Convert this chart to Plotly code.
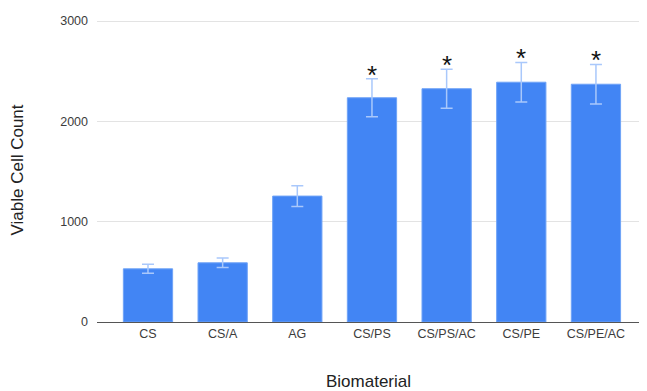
import plotly.graph_objects as go

categories = ["CS", "CS/A", "AG", "CS/PS", "CS/PS/AC", "CS/PE", "CS/PE/AC"]
values = [530, 590, 1255, 2235, 2325, 2390, 2370]
errors = [45, 48, 103, 190, 195, 197, 197]
significant = [False, False, False, True, True, True, True]
y_ticks = [0, 1000, 2000, 3000]

fig = go.Figure()
fig.add_trace(go.Bar(
    x=categories, y=values,
    marker=dict(color="#4285F4", line=dict(color="#6fa3f7", width=1)),
    error_y=dict(type="data", array=errors, visible=True, color="#a9c8fb",
                 thickness=1.5, width=6),
))

for c, v, e, s in zip(categories, values, errors, significant):
    if s:
        fig.add_annotation(x=c, y=v + e, text="*", showarrow=False,
                           yanchor="bottom", yshift=-13,
                           font=dict(size=26, color="#111111",
                                     family="Liberation Sans, Arial"))

# page body has an 8px default margin; size the figure to fit the window
fig.update_layout(
    width=639, height=383,
    margin=dict(l=89, r=7, t=10, b=69),
    paper_bgcolor="white", plot_bgcolor="white",
    bargap=0.34, showlegend=False,
    font=dict(family="Liberation Sans, Arial", color="#444444", size=12),
    xaxis=dict(
        range=[-0.683, 6.59], showgrid=False, ticks="", showline=False,
        automargin=False, ticklabelstandoff=2,
        tickfont=dict(size=12.5, color="#3c3c3c"),
        title=dict(text="Biomaterial", font=dict(size=17, color="#222222"),
                   standoff=35),
    ),
    yaxis=dict(
        range=[0, 3030], tickvals=y_ticks, showgrid=True,
        gridcolor="#e3e3e3", gridwidth=1, zeroline=True,
        zerolinecolor="#555555", zerolinewidth=1.2,
        ticks="", ticklabelstandoff=8, automargin=False,
        tickfont=dict(size=12.5, color="#3c3c3c"),
        title=dict(text="Viable Cell Count", font=dict(size=17, color="#222222"),
                   standoff=33),
    ),
)

fig.write_html("out.html")
